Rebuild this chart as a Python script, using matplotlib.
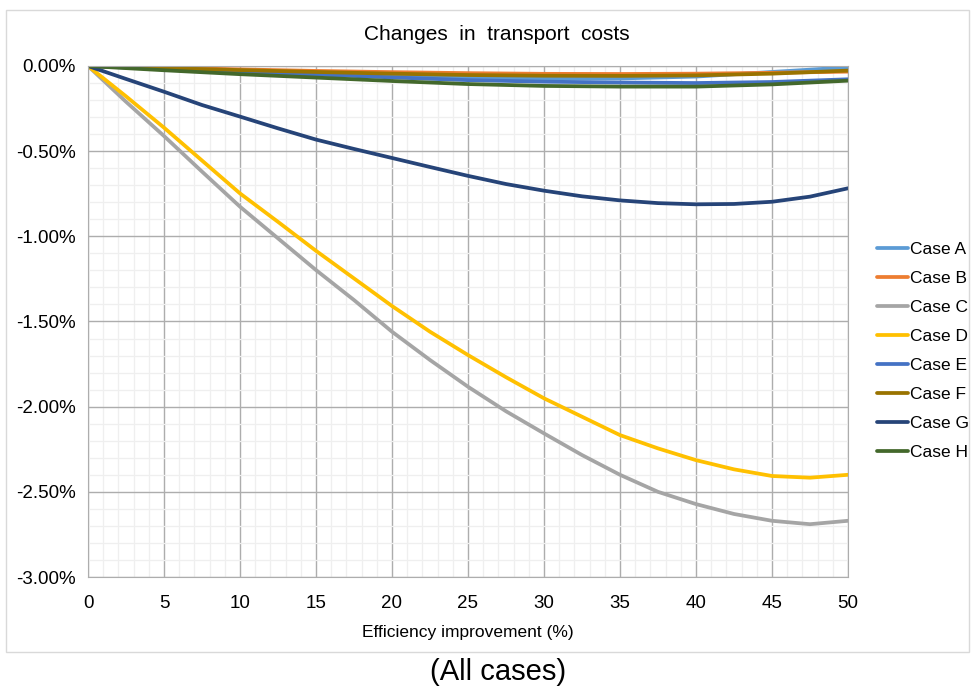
import matplotlib.pyplot as plt
import matplotlib.patches as mpatches
from matplotlib.ticker import MultipleLocator, FuncFormatter

plt.rcParams['font.family'] = ['Liberation Sans', 'DejaVu Sans']

# efficiency improvement (%)
x = [0, 5, 10, 15, 20, 25, 30, 35, 40, 45, 50]
x_fine = [0, 2.5, 5, 7.5, 10, 12.5, 15, 17.5, 20, 22.5, 25, 27.5,
          30, 32.5, 35, 37.5, 40, 42.5, 45, 47.5, 50]

# change in transport costs (%)
case_a = [0, -0.015, -0.032, -0.047, -0.06, -0.07, -0.074, -0.073, -0.062, -0.035, -0.008]
case_b = [0, -0.01, -0.02, -0.029, -0.036, -0.042, -0.046, -0.047, -0.045, -0.04, -0.033]
case_c = [0, -0.21, -0.411, -0.62, -0.826, -1.012, -1.198, -1.374, -1.56, -1.726, -1.883, -2.027,
          -2.157, -2.284, -2.40, -2.50, -2.572, -2.63, -2.67, -2.69, -2.67]
case_d = [0, -0.178, -0.362, -0.555, -0.748, -0.915, -1.085, -1.247, -1.409, -1.56, -1.697, -1.827,
          -1.951, -2.059, -2.167, -2.245, -2.314, -2.368, -2.407, -2.417, -2.40]
case_e = [0, -0.018, -0.035, -0.05, -0.067, -0.083, -0.092, -0.097, -0.10, -0.094, -0.078]
case_f = [0, -0.012, -0.024, -0.035, -0.045, -0.053, -0.057, -0.058, -0.055, -0.045, -0.027]
case_g = [0, -0.076, -0.151, -0.229, -0.297, -0.366, -0.432, -0.487, -0.54, -0.593, -0.645, -0.693,
          -0.732, -0.765, -0.789, -0.805, -0.812, -0.81, -0.797, -0.767, -0.718]
case_h = [0, -0.025, -0.048, -0.068, -0.088, -0.106, -0.117, -0.121, -0.121, -0.108, -0.086]

labels = ['Case A', 'Case B', 'Case C', 'Case D', 'Case E', 'Case F', 'Case G', 'Case H']
colors = ['#5B9BD5', '#ED7D31', '#A5A5A5', '#FFC000', '#4472C4', '#997300', '#264478', '#43682B']
series = [(x, case_a), (x, case_b), (x_fine, case_c), (x_fine, case_d),
          (x, case_e), (x, case_f), (x_fine, case_g), (x, case_h)]

fig = plt.figure(figsize=(9.76, 6.86), dpi=100)

# chart frame
fig.patches.append(mpatches.Rectangle((6 / 976, 1 - 652 / 686), 963 / 976, 642 / 686,
                                      transform=fig.transFigure, fill=False,
                                      edgecolor='#D9D9D9', lw=1))

ax = fig.add_axes([88 / 976, 1 - 577 / 686, 760 / 976, 511 / 686])

for (xs, ys), c, lab in zip(series, colors, labels):
    ax.plot(xs, ys, color=c, lw=2.7, label=lab, solid_capstyle='round',
            solid_joinstyle='round')

ax.set_xlim(0, 50)
ax.set_ylim(-3.0, 0.0)
ax.xaxis.set_major_locator(MultipleLocator(5))
ax.xaxis.set_minor_locator(MultipleLocator(1))
ax.yaxis.set_major_locator(MultipleLocator(0.5))
ax.yaxis.set_minor_locator(MultipleLocator(0.1))
ax.yaxis.set_major_formatter(FuncFormatter(lambda v, p: f'{v:.2f}%'))

ax.grid(which='minor', color='#EFEFEF', lw=0.9)
ax.grid(which='major', color='#ADADAD', lw=1.0)
ax.set_axisbelow(True)
ax.tick_params(which='both', length=0, labelsize=13.5)
ax.tick_params(axis='y', pad=9)
ax.tick_params(axis='x', pad=13)
for s in ax.spines.values():
    s.set_color('#ADADAD')

fig.text(497 / 976, 1 - 35 / 686, 'Changes  in  transport  costs', ha='center', va='center',
         fontsize=15)
ax.set_xlabel('Efficiency improvement (%)', fontsize=12.5, labelpad=9)

ax.legend(loc='center left', bbox_to_anchor=(877 / 976, 1 - 351 / 686),
          bbox_transform=fig.transFigure, frameon=False, borderpad=0, borderaxespad=0,
          fontsize=12.5, handlelength=1.8, handletextpad=0.12, labelspacing=0.8)

fig.text(498 / 976, 1 - 672 / 686, '(All cases)', ha='center', va='center', fontsize=21)

fig.savefig('out.png', dpi=100)
